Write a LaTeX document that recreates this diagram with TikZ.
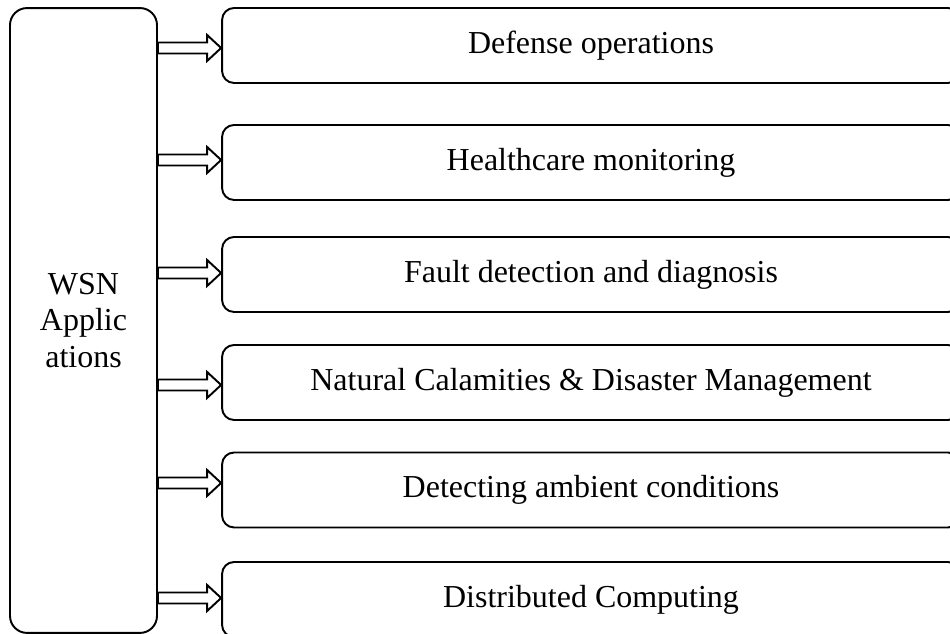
\documentclass[tikz,border=0pt]{standalone}
\usepackage{fontspec}
\setmainfont{Liberation Serif}
\usetikzlibrary{calc}

\begin{document}
\begin{tikzpicture}[x=0.02cm, y=0.02cm,
    rootbox/.style={draw, line width=1.1pt, rounded corners=0.34cm, inner sep=0pt,
      minimum width=2.94cm, minimum height=12.5cm, align=center,
      font=\fontsize{18.2}{20.6}\selectfont},
    appbox/.style={draw, line width=1.1pt, rounded corners=0.24cm, inner sep=0pt,
      minimum width=14.76cm, minimum height=1.5cm,
      font=\fontsize{18.2}{20.6}\selectfont},
    fatarrow/.style={draw, line width=1.1pt, fill=white, line join=miter}]
  \useasboundingbox (0,0) rectangle (950,634);

  \node[rootbox] (wsn) at (83.5,313.5) {WSN\\Applic\\ations};

  \node[appbox] (app1) at (591,588.5) {Defense operations};
  \node[appbox] (app2) at (591,471.5) {Healthcare monitoring};
  \node[appbox] (app3) at (591,359.5) {Fault detection and diagnosis};
  \node[appbox] (app4) at (591,251.5) {Natural Calamities \& Disaster Management};
  \node[appbox] (app5) at (591,144) {Detecting ambient conditions};
  \node[appbox] (app6) at (591,34.5) {Distributed Computing};

  % hollow block arrows from the root box to each application
  \foreach \i/\dy in {1/-2.5, 2/2.5, 3/1.5, 4/-2.5, 5/7, 6/1.5} {
    \coordinate (tip\i) at ($(app\i.west)+(0,\dy)$);
    \draw[fatarrow] (tip\i) -- ++(-14,13) -- ++(0,-7.5)
      -- ($(wsn.east |- tip\i)+(0,5.5)$) -- ++(0,-11)
      -- ($(tip\i)+(-14,-5.5)$) -- ++(0,-7.5) -- cycle;
  }
\end{tikzpicture}
\end{document}
